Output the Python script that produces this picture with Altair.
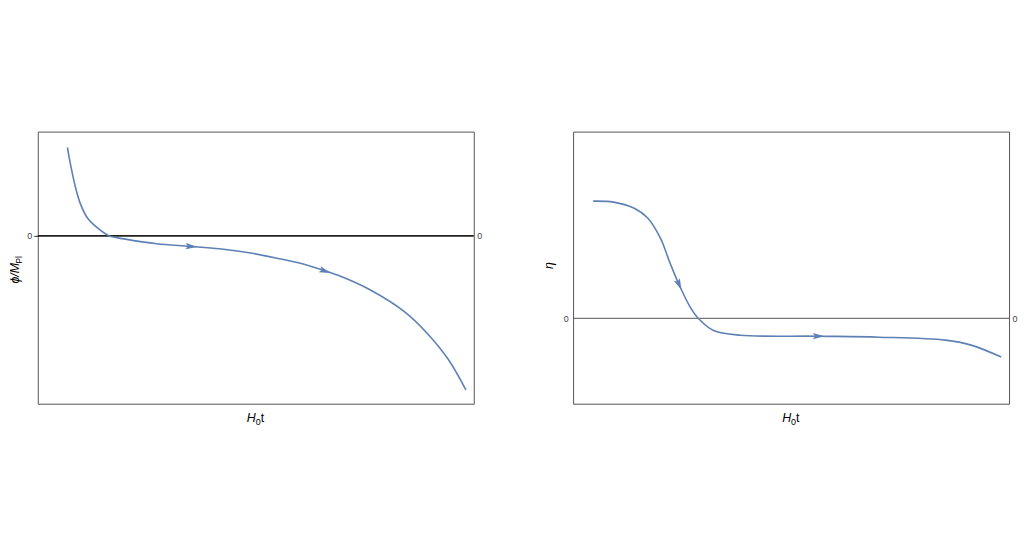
import math
import numpy as np
import pandas as pd
import altair as alt

# ---- data ----
left_t = [0.68, 0.75, 0.87, 0.98, 1.14, 1.37, 1.64, 1.98, 2.73, 3.49, 4.17, 4.85,
          5.54, 6.22, 6.90, 7.65, 8.43, 8.95, 9.41, 9.82]
left_phi = [0.89, 0.72, 0.48, 0.32, 0.18, 0.08, 0.0, -0.03, -0.08, -0.105, -0.13, -0.17,
            -0.23, -0.30, -0.40, -0.55, -0.77, -0.99, -1.24, -1.55]
left_arrow_t = [3.49, 6.56]
left_arrow_phi = [-0.105, -0.35]

right_t = [0.46, 0.93, 1.39, 1.71, 2.00, 2.23, 2.46, 2.69, 2.87, 3.21, 3.83, 5.60,
           7.02, 8.54, 9.13, 9.82]
right_eta = [1.18, 1.17, 1.11, 1.01, 0.81, 0.55, 0.31, 0.11, 0.0, -0.12, -0.17, -0.18,
             -0.19, -0.22, -0.27, -0.39]
right_arrow_t = [2.42, 5.60]
right_arrow_eta = [0.35, -0.18]

X_DOMAIN = [0, 10]
LEFT_Y_DOMAIN = [-1.69, 1.05]
RIGHT_Y_DOMAIN = [-0.86, 1.88]

W, H = 439, 274
LINE = "#5E81B5"
FONT = "Liberation Sans"
ARROW = "M0,-1L0.45,0.6L0,0.32L-0.45,0.6Z"


def arrow_angles(ts, xs, ys, ydom):
    px_x = W / (X_DOMAIN[1] - X_DOMAIN[0])
    px_y = H / (ydom[1] - ydom[0])
    out = []
    for t in ts:
        d = 0.15
        y1 = np.interp(t - d, xs, ys)
        y2 = np.interp(t + d, xs, ys)
        dx = 2 * d * px_x
        dy = (y2 - y1) * px_y  # data up
        out.append(math.degrees(math.atan2(dx, dy)))
    return out


def panel(xs, ys, ats, ays, ydom, zero_color, zero_width, tick, left_pad, title_layers):
    xenc = alt.X("t:Q", scale=alt.Scale(domain=X_DOMAIN, nice=False, zero=False), axis=None)
    yscale = alt.Scale(domain=ydom, nice=False, zero=False)

    curve = pd.DataFrame({"t": xs, "y": ys})
    arrows = pd.DataFrame({"t": ats, "y": ays,
                           "ang": arrow_angles(ats, xs, ys, ydom)})
    zero = pd.DataFrame({"y": [0]})

    left_axis = alt.Axis(values=[0], title=None, labelFontSize=9, labelColor="#444",
                         labelFont=FONT, ticks=tick, tickSize=4, tickColor="#333",
                         domain=False, grid=False, labelPadding=left_pad, orient="left")
    right_axis = alt.Axis(values=[0], title=None, labelFontSize=9, labelColor="#444",
                          labelFont=FONT, ticks=False, domain=False, grid=False,
                          labelPadding=3, orient="right")

    rule = alt.Chart(zero).mark_rule(color=zero_color, strokeWidth=zero_width).encode(
        y=alt.Y("y:Q", scale=yscale, axis=left_axis))
    line = alt.Chart(curve).mark_line(color=LINE, strokeWidth=1.6,
                                      interpolate="catmull-rom").encode(
        x=xenc, y=alt.Y("y:Q", scale=yscale, axis=right_axis))
    pts = alt.Chart(arrows).mark_point(shape=ARROW, filled=True, color=LINE,
                                       opacity=1, size=210).encode(
        x=xenc, y=alt.Y("y:Q", scale=yscale, axis=None),
        angle=alt.Angle("ang:Q", scale=None))

    return alt.layer(rule, line, pts, *title_layers).resolve_axis(y="independent").properties(
        width=W, height=H)


one = pd.DataFrame({"a": [0]})


def txt(s, x, y, size=12, italic=False, angle=0, align="left", baseline="alphabetic"):
    kw = dict(font=FONT, fontSize=size, color="#000", align=align, baseline=baseline,
              angle=angle)
    if italic:
        kw["fontStyle"] = "italic"
    return alt.Chart(one).mark_text(**kw).encode(
        x=alt.value(x), y=alt.value(y), text=alt.value(s))


def xtitle():
    cx = W / 2
    start = cx - 9
    return [txt("H", start, 292, 12.5, italic=True),
            txt("0", start + 9, 295, 9),
            txt("t", start + 14, 292, 12.5)]


left_titles = xtitle() + [
    txt("ϕ/M", -19, 153, 12.5, italic=True, angle=270),
    txt("Pl", -16, 133, 8.5, angle=270),
]
right_titles = xtitle() + [
    txt("η", -24, 135, 12.5, italic=True, angle=270, align="center", baseline="middle"),
]

left = panel(left_t, left_phi, left_arrow_t, left_arrow_phi, LEFT_Y_DOMAIN,
             "#222", 2, True, 2, left_titles)
right = panel(right_t, right_eta, right_arrow_t, right_arrow_eta, RIGHT_Y_DOMAIN,
              "#555", 1, False, 5, right_titles)

chart = alt.hconcat(left, right, spacing=60).properties(
    padding={"left": 0, "top": 122, "right": 0, "bottom": 0},
    background="white"
).configure_view(stroke="#555", strokeWidth=1)

chart.save("out.html", embed_options={"renderer": "svg", "actions": False})
